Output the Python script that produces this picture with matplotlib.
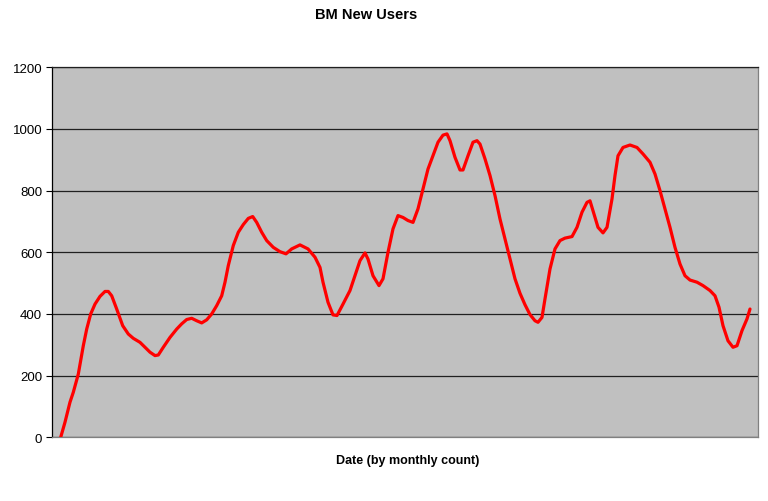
import matplotlib.pyplot as plt

plt.rcParams['font.family'] = ['Liberation Sans', 'DejaVu Sans']

# position along the (unlabelled) date axis, and the new-user count
t = [8.7, 13, 18, 21.3, 26.3, 31.3, 34.7, 38.7, 43, 48, 53, 56.3, 59.7, 64.7, 70.7,
     76.3, 81.3, 88, 93, 98, 103, 106.3, 111.3, 118, 124.7, 129.7, 134.7, 139.7, 144.7,
     149.7, 154.7, 159.7, 164.7, 169.7, 173, 176.3, 181.3, 186.3, 191.3, 196.3, 200.7,
     204.7, 209.7, 214.7, 221.3, 228, 234, 239.7, 248, 256, 263, 268, 271, 276, 281, 285,
     291, 298, 303, 308, 313, 316, 321, 327, 331, 336, 341, 346, 351, 356, 361, 366, 371,
     376, 381, 386, 391, 395, 398, 403, 408, 411, 416, 421, 425, 428, 433, 438, 443, 448,
     453, 458, 463, 468, 473, 478, 483, 486, 490, 493, 498, 503, 508, 513, 520, 525, 530,
     535, 538, 541, 546, 551, 555, 560, 563, 566, 571, 578, 585, 591, 598, 603, 608, 613,
     618, 623, 628, 633, 638, 645, 651, 658, 663, 667, 671, 676, 681, 685, 690, 695, 698]
users = [0, 49, 114, 146, 205, 297, 351, 400, 432, 457, 473, 473, 459, 416, 362,
         335, 321, 308, 292, 276, 265, 267, 292, 324, 351, 368, 382, 386, 378,
         371, 381, 400, 427, 459, 503, 557, 622, 665, 690, 710, 716,
         697, 665, 638, 616, 602, 595, 611, 624, 611, 584, 551, 503, 438, 397, 395,
         432, 476, 524, 573, 598, 578, 524, 492, 514, 600, 676, 719, 713, 703, 697, 741, 805,
         870, 913, 957, 980, 984, 962, 908, 867, 867, 913, 957, 962, 951, 903, 849, 784, 708,
         643, 578, 514, 467, 430, 398, 378, 373, 389, 449, 546, 611, 638, 646, 651, 681, 730,
         762, 767, 735, 681, 663, 681, 773, 849, 913, 940, 948, 940, 919, 892, 854, 800,
         741, 681, 616, 562, 524, 510, 503, 492, 476, 459, 422, 362, 313, 292, 297, 346, 384, 416]
yticks = [0, 200, 400, 600, 800, 1000, 1200]

fig = plt.figure(figsize=(7.68, 5.02), dpi=100)
ax = fig.add_axes([52/768, 1 - 438.3/502, 706/768, 370/502])
ax.set_facecolor('#C0C0C0')

ax.plot(t, users, color='#FF0000', lw=2.3, solid_joinstyle='round', solid_capstyle='round', zorder=3)

ax.set_xlim(0, 706)
ax.set_ylim(0, 1200)
ax.set_yticks(yticks)
ax.set_xticks([])
ax.yaxis.grid(True, color='#202020', lw=0.9)
ax.set_axisbelow(True)
ax.tick_params(axis='y', length=4, width=0.8, labelsize=9.5, pad=3)

ax.spines['left'].set_color('black')
ax.spines['bottom'].set_color('#808080')
ax.spines['right'].set_color('#808080')
ax.spines['top'].set_color('#202020')
for s in ax.spines.values():
    s.set_linewidth(0.9)

fig.text(366/768, 1 - 15/502, 'BM New Users', ha='center', va='center', fontsize=10.5, fontweight='bold')
fig.text(408/768, 1 - 461/502, 'Date (by monthly count)', ha='center', va='center', fontsize=9, fontweight='bold')

fig.savefig('out.png', dpi=100)
